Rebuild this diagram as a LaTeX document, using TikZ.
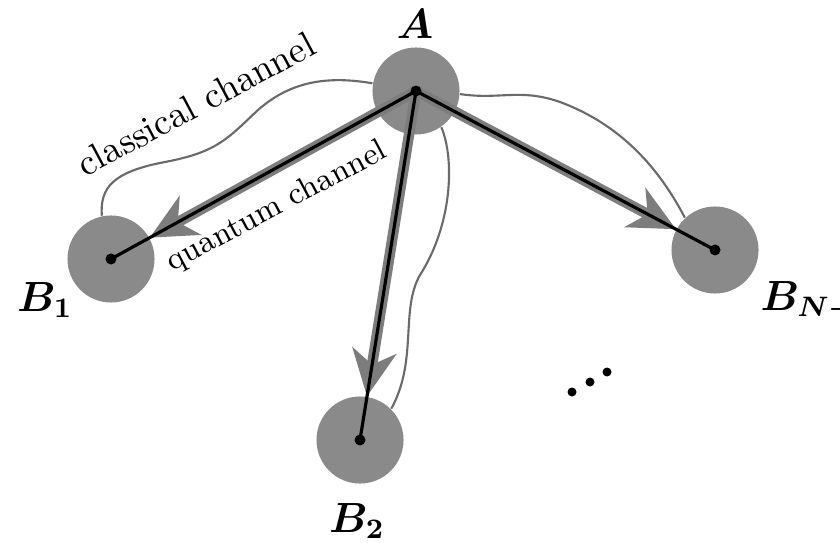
\documentclass[tikz,border=0pt]{standalone}
\usetikzlibrary{arrows.meta}
\definecolor{disc}{HTML}{8A8A8A}
\definecolor{qgray}{HTML}{7D7D7D}
\definecolor{cgray}{HTML}{6A6A6A}

\begin{document}
\begin{tikzpicture}[x=0.01cm,y=-0.01cm,
  party/.style={circle,fill=disc,minimum size=8.7mm,inner sep=0pt},
  quantum/.style={-{Stealth[length=4.6mm,width=4.4mm,inset=1.4mm]},line width=3pt,draw=qgray},
  core/.style={line width=.9pt,draw=black},
  classical/.style={line width=.6pt,draw=cgray},
  plabel/.style={font=\large\boldmath,inner sep=0pt},
  chlabel/.style={rotate=28,inner sep=0pt}
]
\useasboundingbox (0,0) rectangle (840,543);

\node[party] (A) at (416,91) {};
\node[party] (B1) at (111,259) {};
\node[party] (B2) at (360,440) {};
\node[party] (BN) at (715,250) {};

\draw[classical] (A.170) .. controls (330,76) and (292,80) .. (258,110)
  .. controls (228,138) and (218,152) .. (165,162)
  .. controls (112,172) and (100,188) .. (B1.102);
\draw[classical] (A.-4) .. controls (500,100) and (520,88) .. (560,102)
  .. controls (630,128) and (665,180) .. (BN.133);
\draw[classical] (A.-55) .. controls (455,160) and (452,225) .. (420,275)
  .. controls (400,310) and (418,360) .. (B2.45);

\draw[quantum] (A.center) -- (B1);
\draw[quantum] (A.center) -- (B2);
\draw[quantum] (A.center) -- (BN);
\draw[core] (A.center) -- (B1.center);
\draw[core] (A.center) -- (B2.center);
\draw[core] (A.center) -- (BN.center);
\fill (A) circle (5.5) (B1) circle (5.5) (B2) circle (5.5) (BN) circle (5.5);

\node[plabel] (lA) at (415,24) {$A$};
\node[plabel] (lB1) at (45,300) {$B_1$};
\node[plabel] (lB2) at (357,521) {$B_2$};
\node[plabel,anchor=west] (lBN) at (760,301) {$B_{N-1}$};

\node[chlabel,font=\fontsize{10.5}{12}\selectfont] (lclass) at (196,104) {classical channel};
\node[chlabel,font=\small] (lquant) at (277,207) {quantum channel};
\foreach \p in {(572,392),(590,382),(607,372)}
  \fill \p circle (4.5);
\end{tikzpicture}
\end{document}
